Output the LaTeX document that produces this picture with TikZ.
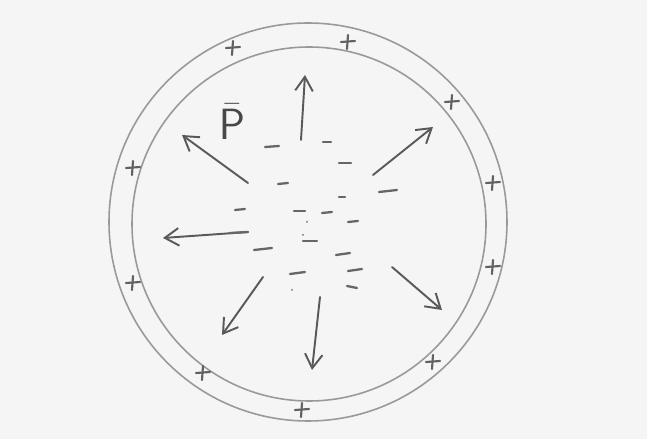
\documentclass[tikz,border=0pt]{standalone}
\usepackage{amsmath}
\usepackage{tikz}
\usetikzlibrary{arrows.meta}

\begin{document}
\begin{tikzpicture}[x=0.02cm,y=-0.02cm,
  shell/.style={draw=black!40,line width=0.9pt},
  field/.style={draw=black!65,line width=1.1pt,line cap=round,-{Straight Barb[length=8pt,width=10pt,line width=1.1pt]}},
  poscharge/.style={draw=black!62,line width=1.2pt,line cap=round},
  negcharge/.style={draw=black!60,line width=1.3pt,line cap=round}]
\useasboundingbox (0,0) rectangle (647,439);
\fill[black!4] (0,0) rectangle (647,439);
% shells
\draw[shell] (308,222) circle (199);
\draw[shell] (309,224) circle (177);
% label
\node[anchor=base,text=black!72,font=\fontsize{26}{30}\selectfont] (pol) at (232,140) {$\bar{\mathsf{P}}$};
% field arrows
\draw[field] (301,140) -- (305,75);
\draw[field] (373,175) -- (433,127);
\draw[field] (248,183) -- (182,135);
\draw[field] (248,232) -- (163,238);
\draw[field] (263,277) -- (222,335);
\draw[field] (320,297) -- (312,370);
\draw[field] (392,267) -- (442,310);
% plus charges on the outer shell
\draw[poscharge] (233,48) +(-7,0) -- +(7,-1) +(0,-7) -- +(-1,7);
\draw[poscharge] (348,42) +(-7,0) -- +(7,-1) +(0,-7) -- +(-1,7);
\draw[poscharge] (452,102) +(-7,0) -- +(7,-1) +(0,-7) -- +(-1,7);
\draw[poscharge] (133,168) +(-7,0) -- +(7,-1) +(0,-7) -- +(-1,7);
\draw[poscharge] (493,183) +(-7,0) -- +(7,-1) +(0,-7) -- +(-1,7);
\draw[poscharge] (493,267) +(-7,0) -- +(7,-1) +(0,-7) -- +(-1,7);
\draw[poscharge] (133,283) +(-7,0) -- +(7,-1) +(0,-7) -- +(-1,7);
\draw[poscharge] (433,362) +(-7,0) -- +(7,-1) +(0,-7) -- +(-1,7);
\draw[poscharge] (203,373) +(-7,0) -- +(7,-1) +(0,-7) -- +(-1,7);
\draw[poscharge] (302,410) +(-7,0) -- +(7,-1) +(0,-7) -- +(-1,7);
% minus charges in the middle
\draw[negcharge] (265,147) -- (279,146);
\draw[negcharge] (323,142) -- (331,142);
\draw[negcharge] (339,163) -- (351,163);
\draw[negcharge] (278,184) -- (288,183);
\draw[negcharge] (339,197) -- (345,197);
\draw[negcharge] (379,192) -- (397,190);
\draw[negcharge] (235,210) -- (245,209);
\draw[negcharge] (294,211) -- (305,211);
\draw[negcharge] (322,213) -- (332,212);
\draw[negcharge] (348,222) -- (358,221);
\draw[negcharge] (230,233) -- (248,232);
\draw[negcharge] (303,241) -- (317,241);
\draw[negcharge] (254,250) -- (272,248);
\draw[negcharge] (336,255) -- (350,253);
\draw[negcharge] (290,274) -- (305,272);
\draw[negcharge] (348,271) -- (362,269);
\draw[negcharge] (347,286) -- (357,288);
\fill[black!55] (307,222) circle (1) (303,235) circle (1) (292,290) circle (1);
\end{tikzpicture}
\end{document}
